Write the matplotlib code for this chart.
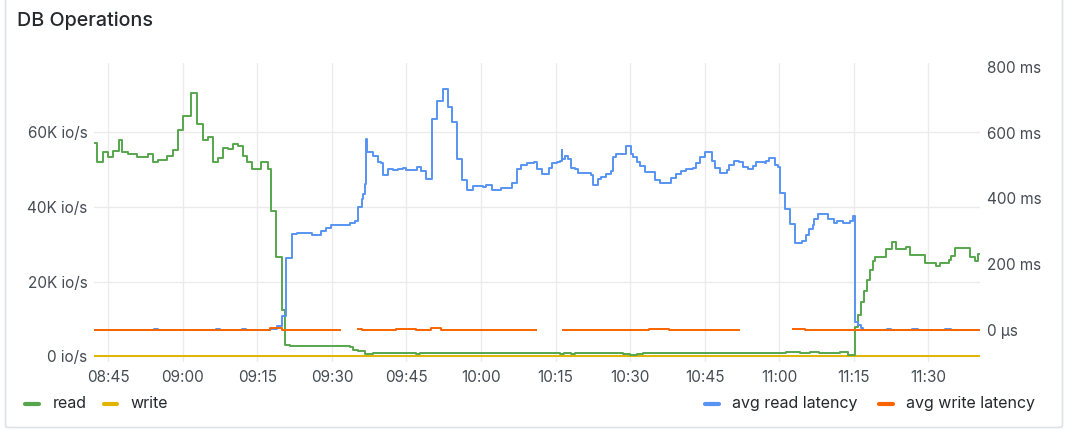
import numpy as np
import pandas as pd
import matplotlib
matplotlib.use("Agg")
import matplotlib.pyplot as plt
import matplotlib.dates as mdates
from matplotlib.lines import Line2D
from matplotlib.patches import FancyBboxPatch

plt.rcParams['font.family'] = ['Inter', 'DejaVu Sans']

# minutes after 08:00 where each step starts, value holds until the next one
read_t = [42.3, 42.8, 43.9, 44.9, 45.9, 47.1, 47.8, 49.0, 50.8, 53.0, 54.0, 55.0,
          56.9, 58.0, 59.0, 60.0, 61.7, 62.8, 64.0, 65.1, 66.1, 67.1, 68.1, 69.1,
          70.1, 71.1, 72.1, 73.0, 74.0, 75.8, 77.1, 77.8, 78.7, 79.9, 80.5, 81.5,
          93.6, 94.2, 95.2, 96.6, 98.2, 99.6, 106.9, 107.7, 135.9, 136.7, 138.1,
          138.9, 148.5, 149.9, 151.3, 152.5, 181.4, 184.1, 186.1, 188.1, 192.2,
          193.8, 195.2, 195.8, 196.4, 197.0, 197.6, 198.2, 198.8, 199.2, 201.4,
          202.6, 203.4, 205.6, 206.4, 209.4, 211.5, 212.3, 214.2, 214.6, 215.3,
          218.3, 219.3, 220.0, 220.4]
read_v = [57.1, 52.0, 54.6, 53.3, 54.9, 57.9, 54.5, 54.0, 53.3, 54.2, 51.9, 52.6,
          53.6, 55.1, 60.5, 64.3, 70.3, 62.0, 57.8, 58.7, 52.0, 53.0, 55.7, 55.3,
          56.7, 56.2, 53.6, 52.0, 50.0, 52.0, 50.0, 38.8, 26.7, 12.5, 3.1, 2.7,
          2.5, 1.8, 1.4, 0.7, 1.0, 0.9, 0.7, 0.9, 0.7, 0.9, 0.6,
          0.9, 0.6, 0.4, 0.7, 0.9, 1.2, 1.0, 1.2, 1.0, 1.1,
          0.5, 7.8, 11.0, 14.5, 17.5, 20.5, 23.0, 25.5, 26.7, 28.7,
          30.5, 28.7, 29.2, 27.2, 24.9, 24.3, 25.1, 25.8, 26.9, 29.1,
          26.7, 25.4, 27.5, 27.5]

write_t = [42.3, 54.2, 54.8, 77.8, 196.5, 220.4]
write_v = [0.2, 0.1, 0.2, 0.0, 0.1, 0.1]

rlat_t = [42.3, 54.2, 55.0, 66.6, 67.4, 72.0, 72.8, 77.5, 78.9, 79.9, 80.7, 81.9,
          82.9, 85.9, 87.9, 88.9, 89.9, 93.6, 94.6, 95.3, 96.0, 96.3, 96.6, 96.9,
          97.1, 98.2, 99.3, 99.8, 100.2, 101.3, 102.3, 103.3, 104.3, 105.0, 107.2,
          108.0, 109.0, 110.2, 111.2, 112.3, 113.3, 114.2, 115.2, 116.2, 117.2,
          118.3, 120.4, 121.1, 122.2, 124.1, 126.3, 127.3, 128.0, 129.2, 130.7,
          131.3, 132.2, 133.7, 134.2, 135.2, 135.9, 136.2, 136.4, 136.9, 137.5,
          138.2, 138.9, 139.5, 142.2, 142.5, 143.5, 144.2, 145.1, 146.2, 146.6,
          147.2, 149.2, 150.1, 150.6, 151.3, 151.9, 152.9, 155.1, 156.0, 158.3,
          159.3, 160.3, 161.3, 162.7, 163.3, 164.1, 165.0, 166.4, 167.0, 168.0,
          169.4, 170.0, 171.0, 172.0, 172.7, 173.7, 174.7, 175.4, 177.1, 177.4,
          178.0, 179.2, 179.8, 180.2, 181.1, 182.2, 183.1, 184.5, 185.3, 186.0,
          186.7, 187.0, 187.8, 189.8, 191.0, 191.6, 192.8, 194.2, 194.8, 195.2,
          195.9, 196.5, 196.9, 201.6, 202.4, 206.7, 207.9, 213.3, 214.5, 220.4]
rlat_v = [1, 4, 1, 4, 1, 4, 1, 2, 13, 43, 220, 293,
          296, 290, 301, 310, 318, 325, 330, 374, 399, 414, 444, 581,
          541, 530, 510, 507, 470, 489, 485, 489, 493, 487, 495,
          482, 458, 641, 697, 732, 677, 633, 520, 457, 427,
          437, 434, 440, 424, 432, 446, 489, 501, 507, 511,
          490, 475, 493, 507, 512, 515, 547, 520, 530, 520,
          492, 489, 478, 472, 442, 460, 465, 475, 483, 527,
          535, 558, 535, 525, 510, 497, 479, 455, 448, 462,
          475, 483, 490, 493, 507, 525, 541, 515, 492, 478,
          487, 502, 513, 510, 495, 490, 497, 510, 507, 515,
          523, 500, 495, 416, 369, 323, 263, 270, 288, 308,
          318, 338, 352, 338, 325, 331, 325, 330, 345, 25,
          15, 5, 1, 3, 1, 3, 1, 3, 1, 1]

wlat_t = [42.3, 77.5, 80.0, 91.6, 95.3, 96.0, 103.0, 107.0, 110.0, 112.0, 131.0,
          136.5, 153.9, 157.9, 171.9, 182.8, 185.1, 220.4]
wlat_v = [0.5, 5, 0.5, np.nan, 1.5, 0.5, 2.5, 0.5, 6, 0.5, np.nan,
          0.5, 2.5, 0.5, np.nan, 2.5, 0.5, 0.5]

base = pd.Timestamp('2024-01-01 08:00')


def to_time(m):
    return base + pd.to_timedelta(m, unit='m')


green = '#56A64B'
yellow = '#E0B400'
blue = '#5794F2'
orange = '#FA6400'
text_c = '#464c54'

fig = plt.figure(figsize=(10.67, 4.30), dpi=100)
W, H = 1067, 430
ax = fig.add_axes([94.3 / W, 1 - 361.7 / H, (980 - 94.3) / W, 298.4 / H])
ax2 = ax.twinx()

ax.plot(to_time(write_t), write_v, color=yellow, lw=1.4, drawstyle='steps-post')
ax.plot(to_time(read_t), read_v, color=green, lw=1.4, drawstyle='steps-post')
ax2.plot(to_time(rlat_t), rlat_v, color=blue, lw=1.4, drawstyle='steps-post')
ax2.plot(to_time(wlat_t), wlat_v, color=orange, lw=1.4, drawstyle='steps-post')

ax.set_xlim(to_time(42.2), to_time(220.4))
ax.set_ylim(-1.39, 78.3)
ax2.set_ylim(-96.4, 810.6)

ax.set_yticks([0, 20, 40, 60])
ax.set_yticklabels(['0 io/s', '20K io/s', '40K io/s', '60K io/s'])
ax2.set_yticks([0, 200, 400, 600, 800])
ax2.set_yticklabels(['0 µs', '200 ms', '400 ms', '600 ms', '800 ms'])

ax.xaxis.set_major_locator(mdates.MinuteLocator(byminute=[0, 15, 30, 45]))
ax.xaxis.set_major_formatter(mdates.DateFormatter('%H:%M'))

for a in (ax, ax2):
    for s in a.spines.values():
        s.set_visible(False)
    a.tick_params(length=0, labelsize=11, labelcolor=text_c)
ax.tick_params(axis='y', pad=5)
ax2.tick_params(axis='y', pad=5)
ax.tick_params(axis='x', pad=6)
ax.grid(True, color='#ebebeb', lw=1)
ax.set_axisbelow(True)

fig.text(17 / W, 1 - 20.5 / H, 'DB Operations', fontsize=14.2, color='#24292e',
         va='center', ha='left', fontweight='medium')

# legend
leg_y = 1 - 403.5 / H
entries = [(24.7, 38.7, 52.3, 'read', green), (103.7, 117.3, 130.7, 'write', yellow),
           (704.7, 718.7, 732.3, 'avg read latency', blue),
           (878.7, 893.0, 906.0, 'avg write latency', orange)]
for x0, x1, xt, lab, c in entries:
    fig.add_artist(Line2D([x0 / W, x1 / W], [leg_y, leg_y], color=c, lw=3,
                          solid_capstyle='round', transform=fig.transFigure))
    fig.text(xt / W, leg_y, lab, fontsize=11.5, color='#24292e', va='center', ha='left')

fig.add_artist(FancyBboxPatch((5.5 / W, 2.5 / H), 1057 / W, 1.2,
                              boxstyle='round,pad=0,rounding_size=0.004',
                              transform=fig.transFigure, fill=False,
                              ec='#dde1e8', lw=1.2))

fig.savefig('out.png', dpi=100, facecolor='white')
